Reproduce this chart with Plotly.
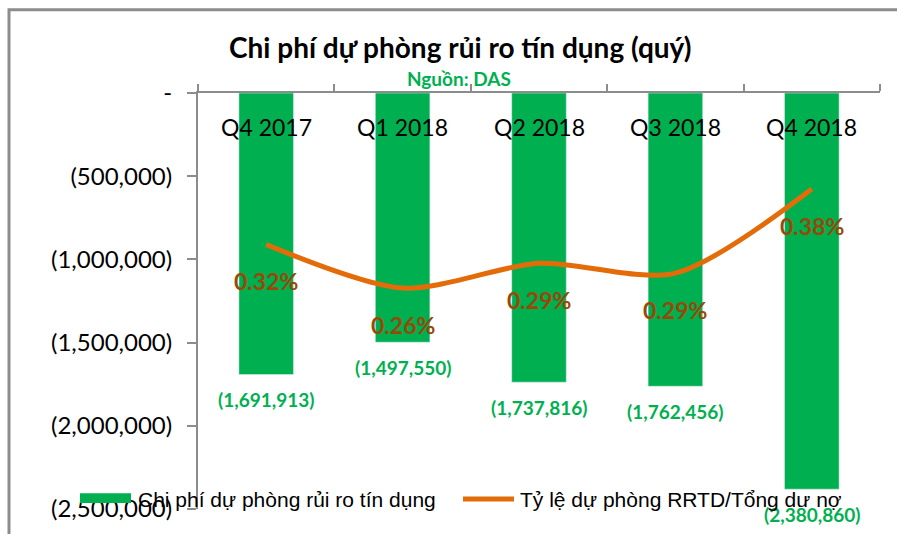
import plotly.graph_objects as go

categories = ["Q4 2017", "Q1 2018", "Q2 2018", "Q3 2018", "Q4 2018"]
provision_cost = [-1691913, -1497550, -1737816, -1762456, -2380860]
provision_ratio = [0.3196, 0.269, 0.2978, 0.2863, 0.384]  # percent
ratio_labels = ["0.32%", "0.26%", "0.29%", "0.29%", "0.38%"]
y_ticks = [0, -500000, -1000000, -1500000, -2000000, -2500000]
y_ticktext = ["-" if v == 0 else f"({abs(v):,.0f})" for v in y_ticks]
series_names = ["Chi phí dự phòng rủi ro tín dụng", "Tỷ lệ dự phòng RRTD/Tổng dư nợ"]
title_text = "Chi phí dự phòng rủi ro tín dụng (quý)"
subtitle_text = "Nguồn: DAS"

GREEN = "#00B050"
ORANGE = "#E36C09"
BROWN = "#984807"
GRAY = "#8C8C8C"
FONT = "Lato"

W, H = 897, 534
L, R, T, B = 198, 880, 93, 513


def px(x):
    return (x - L) / (R - L)


def py(y):
    return (B - y) / (B - T)


fig = go.Figure()
fig.add_trace(go.Bar(x=categories, y=provision_cost, marker_color=GREEN,
                     width=0.4, name=series_names[0], showlegend=False))
fig.add_trace(go.Scatter(x=categories, y=provision_ratio, yaxis="y2", mode="lines",
                         line=dict(color=ORANGE, width=5, shape="spline", smoothing=0.8),
                         name=series_names[1], showlegend=False))

annotations = []
for c, v in zip(categories, provision_cost):
    annotations.append(dict(x=c, y=v, xref="x", yref="y", text=f"<b>({abs(v):,.0f})</b>",
                            showarrow=False, yshift=-25, yanchor="middle", xanchor="center",
                            font=dict(family=FONT, size=19, color=GREEN)))
for c, v, t in zip(categories, provision_ratio, ratio_labels):
    annotations.append(dict(x=c, y=v, xref="x", yref="y2", text=f"<b>{t}</b>",
                            showarrow=False, yshift=-37, yanchor="middle", xanchor="center",
                            font=dict(family=FONT, size=23, color=BROWN)))
for c in categories:
    annotations.append(dict(x=c, y=1, xref="x", yref="paper", text=c, showarrow=False,
                            yshift=-34, yanchor="middle", xanchor="center",
                            font=dict(family=FONT, size=23, color="black")))
# title & subtitle
annotations.append(dict(x=px(460), y=py(47), xref="paper", yref="paper",
                        xanchor="center", yanchor="middle",
                        text=f"<b>{title_text}</b>", showarrow=False,
                        font=dict(family=FONT, size=28, color="black")))
annotations.append(dict(x=px(459), y=py(78), xref="paper", yref="paper",
                        xanchor="center", yanchor="middle",
                        text=f"<b>{subtitle_text}</b>", showarrow=False,
                        font=dict(family=FONT, size=19, color=GREEN)))
# legend texts
annotations.append(dict(x=px(136), y=py(503), xref="paper", yref="paper",
                        xanchor="left", yanchor="middle",
                        text=series_names[0], showarrow=False,
                        font=dict(family="Liberation Sans", size=21, color="black")))
annotations.append(dict(x=px(518), y=py(503), xref="paper", yref="paper",
                        xanchor="left", yanchor="middle",
                        text=series_names[1], showarrow=False,
                        font=dict(family="Liberation Sans", size=21, color="black")))

shapes = [
    dict(type="rect", xref="paper", yref="paper", x0=px(9), x1=px(905), y0=py(9), y1=py(545),
         line=dict(color=GRAY, width=3), layer="below"),
    dict(type="rect", xref="paper", yref="paper", x0=px(80), x1=px(131), y0=py(507), y1=py(497),
         fillcolor=GREEN, line=dict(width=0)),
    dict(type="line", xref="paper", yref="paper", x0=px(463), x1=px(514), y0=py(503), y1=py(503),
         line=dict(color=ORANGE, width=5)),
]

fig.update_layout(
    width=W, height=H,
    margin=dict(l=L, r=W - R, t=T, b=H - B),
    paper_bgcolor="white", plot_bgcolor="white",
    showlegend=False,
    annotations=annotations,
    shapes=shapes,
    xaxis=dict(type="category", side="top", showticklabels=False, showline=True,
               linecolor=GRAY, linewidth=2, ticks="outside", tickson="boundaries",
               ticklen=7, tickcolor=GRAY, tickwidth=2, showgrid=False, zeroline=False,
               range=[-0.5, 4.5]),
    yaxis=dict(range=[-2500000, 0], tickvals=y_ticks, ticktext=y_ticktext,
               showline=True, linecolor=GRAY, linewidth=2, ticks="outside", ticklen=9,
               tickcolor=GRAY, tickwidth=2, showgrid=False, zeroline=False,
               tickfont=dict(family=FONT, size=24, color="black"), ticklabelstandoff=10),
    yaxis2=dict(range=[0.0126, 0.4954], overlaying="y", side="right", visible=False),
)

fig.write_html("out.html", config={"displayModeBar": False},
               post_script="document.body.style.margin='0px';")
